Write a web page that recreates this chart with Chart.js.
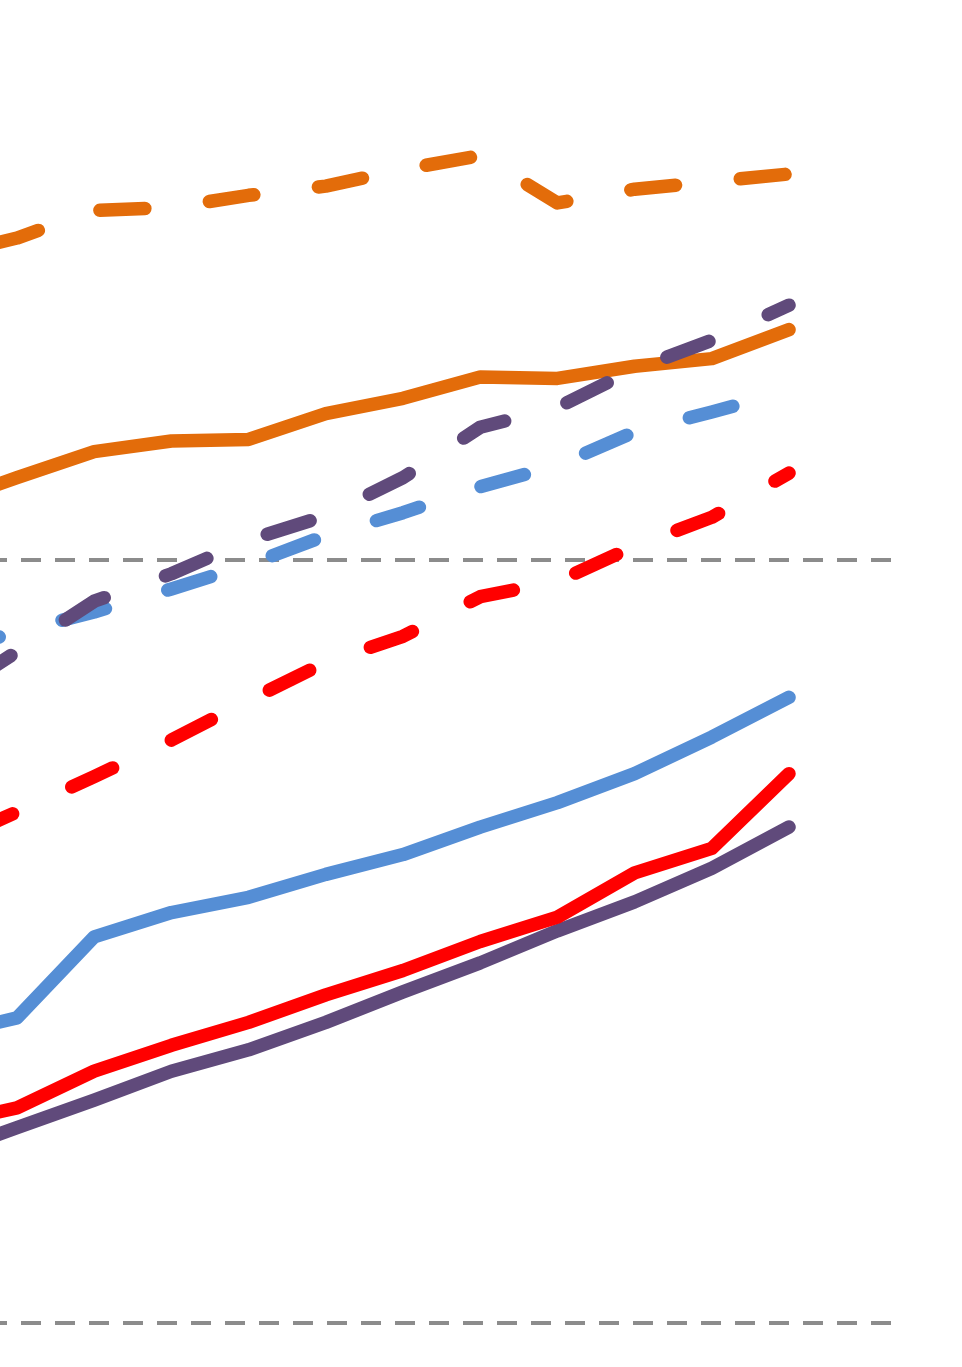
<!DOCTYPE html>
<html>
<head>
<meta charset="utf-8">
<script src="https://cdn.jsdelivr.net/npm/chart.js@4"></script>
<style>
  body { margin: 0; background: #fff; }
  #wrap { width: 962px; height: 1367px; }
</style>
</head>
<body>
<div id="wrap"><canvas id="myChart"></canvas></div>
<script>
// x positions (category index), first one sits just off the left edge
const xIndex = [0, 1, 2, 3, 4, 5, 6, 7, 8, 9, 10, 11]

// dashed series
const orangeDashed = [69.9, 71.1, 72.9, 73.1, 73.9, 74.5, 75.6, 76.5, 73.4, 74.3, 74.8, 75.3]
const purpleDashed = [40.7, 44.0, 47.3, 49.1, 51.3, 52.9, 55.4, 58.7, 60.0, 62.5, 64.4, 66.7]
const blueDashed = [43.8, 45.3, 46.6, 48.1, 49.7, 51.6, 53.1, 54.8, 56.2, 58.4, 59.7, 61.1]
const redDashed = [31.2, 33.5, 35.8, 38.2, 40.8, 43.3, 45.0, 47.6, 48.6, 50.9, 52.8, 55.7]

// solid series
const orangeSolid = [53.6, 55.4, 57.1, 57.8, 57.9, 59.6, 60.6, 62.0, 61.9, 62.7, 63.2, 65.1]
const blueSolid = [18.8, 20.0, 25.3, 26.9, 27.9, 29.4, 30.7, 32.5, 34.1, 36.0, 38.4, 41.0]
const redSolid = [13.0, 14.1, 16.5, 18.2, 19.7, 21.5, 23.1, 25.0, 26.6, 29.5, 31.1, 36.0]
const purpleSolid = [11.0, 12.8, 14.6, 16.5, 17.9, 19.7, 21.7, 23.6, 25.7, 27.6, 29.8, 32.5]

// only these y grid lines are shown
const yTicks = [0, 50]

const ORANGE = '#E36C0A'
const BLUE = '#558ED5'
const RED = '#FF0000'
const PURPLE = '#604A7B'

function pts(values) {
    return values.map((v, i) => ({ x: xIndex[i], y: v }))
}

function line(values, color, dashed, offset, order) {
    return {
        data: pts(values),
        borderColor: color,
        borderWidth: 13.5,
        borderCapStyle: 'round',
        borderJoinStyle: 'round',
        borderDash: dashed ? [45, 65] : [],
        borderDashOffset: offset || 0,
        pointRadius: 0,
        tension: 0,
        fill: false,
        order: order
    }
}

const ctx = document.getElementById('myChart').getContext('2d')
const myChart = new Chart(ctx, {
    type: 'line',
    data: {
        datasets: [
            line(purpleSolid, PURPLE, false, 0, 8),
            line(redSolid, RED, false, 0, 7),
            line(blueSolid, BLUE, false, 0, 6),
            line(orangeSolid, ORANGE, false, 0, 5),
            line(redDashed, RED, true, 75, 4),
            line(blueDashed, BLUE, true, 93, 3),
            line(orangeDashed, ORANGE, true, 53, 2),
            line(purpleDashed, PURPLE, true, 70, 1)
        ]
    },
    options: {
        responsive: true,
        maintainAspectRatio: false,
        animation: false,
        layout: { padding: { left: 0, top: 0, right: 71, bottom: 44 } },
        plugins: {
            legend: { display: false },
            tooltip: { enabled: false }
        },
        scales: {
            x: {
                type: 'linear',
                min: 0.78,
                max: 12.321,
                display: false
            },
            y: {
                min: 0,
                max: 86.7,
                afterBuildTicks: axis => { axis.ticks = yTicks.map(v => ({ value: v })) },
                ticks: { display: false },
                grid: {
                    color: '#8C8C8C',
                    lineWidth: 4,
                    drawTicks: false
                },
                border: { display: false, dash: [20, 14], dashOffset: 13 }
            }
        }
    }
})
</script>
</body>
</html>
